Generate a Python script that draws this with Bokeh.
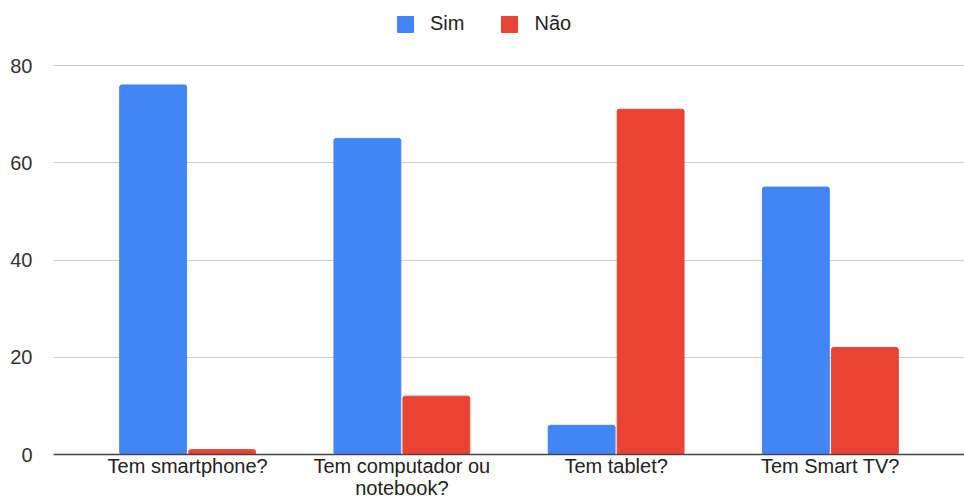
from bokeh.plotting import figure
from bokeh.models import FactorRange, Range1d, Legend, LegendItem, ColumnDataSource
from bokeh.transform import dodge
from bokeh.embed import file_html
from bokeh.resources import INLINE

categories = ["Tem smartphone?", "Tem computador ou\nnotebook?", "Tem tablet?", "Tem Smart TV?"]
sim = [76, 65, 6, 55]
nao = [1, 12, 71, 22]
y_ticks = [0, 20, 40, 60, 80]

src = ColumnDataSource(dict(cat=categories, sim=sim, nao=nao))

FONT = "Liberation Sans"

p = figure(width=964, height=501,
           x_range=FactorRange(*categories, range_padding=0.063),
           y_range=Range1d(0, 80 * 454 / 389),
           output_backend="svg", toolbar_location=None,
           min_border_left=53, min_border_right=0,
           min_border_top=0, min_border_bottom=46)
p.outline_line_color = None

r1 = p.vbar(x=dodge('cat', -0.161, range=p.x_range), top='sim', width=0.312,
            source=src, fill_color="#4285F4", line_color="#4285F4", border_radius=2)
r2 = p.vbar(x=dodge('cat', 0.161, range=p.x_range), top='nao', width=0.312,
            source=src, fill_color="#EA4335", line_color="#EA4335", border_radius=2)

p.xgrid.grid_line_color = None
p.ygrid.ticker = y_ticks
p.ygrid.grid_line_color = "#cccccc"
p.yaxis.ticker = y_ticks
p.yaxis.axis_line_color = None
p.yaxis.major_tick_line_color = None
p.yaxis.minor_tick_line_color = None
p.yaxis.major_tick_out = 0
p.yaxis.major_label_standoff = 21
p.yaxis.major_label_text_font = FONT
p.yaxis.major_label_text_font_size = "20px"
p.yaxis.major_label_text_color = "#333333"

p.xaxis.axis_line_color = "#444444"
p.xaxis.axis_line_width = 1.5
p.xaxis.major_tick_line_color = None
p.xaxis.minor_tick_line_color = None
p.xaxis.major_tick_out = 0
p.xaxis.major_tick_in = 0
p.xaxis.major_label_standoff = 0
p.xaxis.major_label_text_font = FONT
p.xaxis.major_label_text_font_size = "20px"
p.xaxis.major_label_text_line_height = 1.0
p.xaxis.major_label_text_color = "#222222"

legend = Legend(items=[LegendItem(label="Sim", renderers=[r1]),
                       LegendItem(label="Não", renderers=[r2])],
                orientation="horizontal", location=(342, 419),
                border_line_color=None, background_fill_alpha=0,
                label_text_font=FONT, label_text_font_size="20px",
                label_text_color="#222222", padding=0, margin=0,
                glyph_width=20, glyph_height=20, spacing=35, label_standoff=15)
p.add_layout(legend, "center")

open("out.html", "w").write(file_html(p, INLINE))
